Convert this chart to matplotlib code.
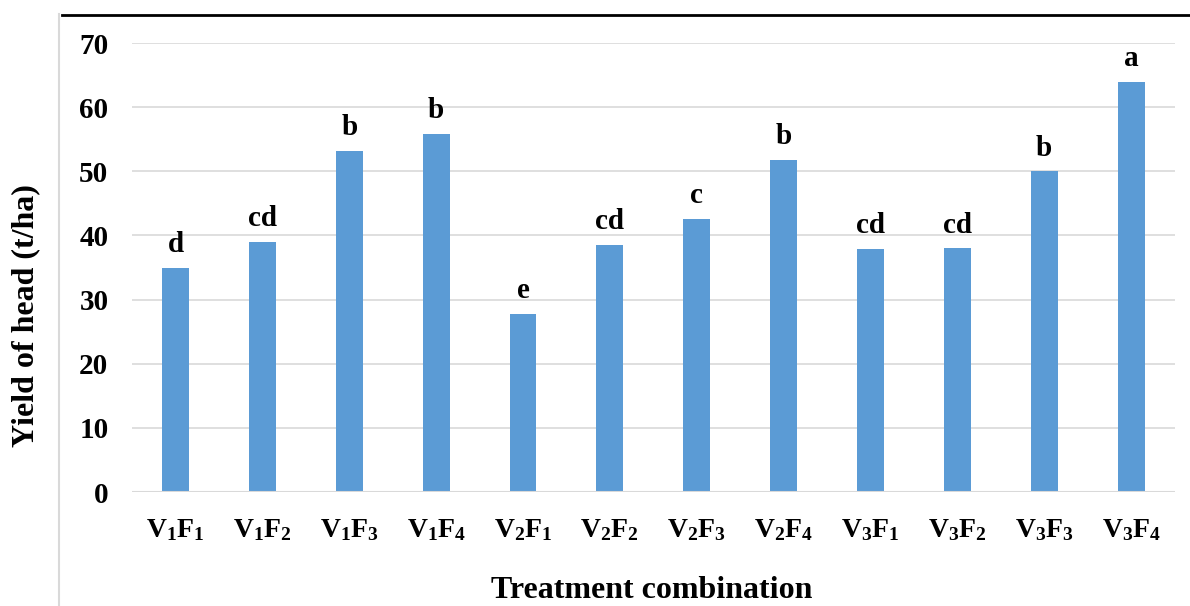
import numpy as np
import matplotlib
matplotlib.use("Agg")
import matplotlib.pyplot as plt
from matplotlib.lines import Line2D

plt.rcParams['font.family'] = ['Liberation Serif', 'DejaVu Serif']
plt.rcParams['font.weight'] = 'bold'
plt.rcParams['mathtext.fontset'] = 'custom'
plt.rcParams['mathtext.rm'] = 'Liberation Serif:bold'
plt.rcParams['mathtext.it'] = 'Liberation Serif:bold'
plt.rcParams['mathtext.bf'] = 'Liberation Serif:bold'

treatments = ['V1F1', 'V1F2', 'V1F3', 'V1F4', 'V2F1', 'V2F2',
              'V2F3', 'V2F4', 'V3F1', 'V3F2', 'V3F3', 'V3F4']
yield_head = [34.9, 39.0, 53.2, 55.8, 27.8, 38.5, 42.6, 51.8, 37.9, 38.0, 50.0, 63.9]
letters = ['d', 'cd', 'b', 'b', 'e', 'cd', 'c', 'b', 'cd', 'cd', 'b', 'a']
yticks = [0, 10, 20, 30, 40, 50, 60, 70]

tick_labels = [r'$\mathrm{V_%sF_%s}$' % (t[1], t[3]) for t in treatments]

fig = plt.figure(figsize=(11.9, 6.06), dpi=100)
ax = fig.add_axes([0.111, 0.188, 0.876, 0.741])

x = np.arange(len(treatments))
ax.bar(x, yield_head, width=0.31, color='#5B9BD5', zorder=3)

for xi, v, l in zip(x, yield_head, letters):
    ax.annotate(l, (xi, v), xytext=(0, 7), textcoords='offset points',
                ha='center', va='bottom', fontsize=21, fontweight='bold')

ax.set_ylim(0, 70)
ax.set_xlim(-0.5, len(treatments) - 0.5)
ax.set_yticks(yticks)
ax.set_yticklabels([str(t) for t in yticks], fontsize=21, fontweight='bold')
ax.set_xticks(x)
ax.set_xticklabels(tick_labels, fontsize=20)
ax.tick_params(axis='both', length=0)
ax.tick_params(axis='y', pad=17)
ax.tick_params(axis='x', pad=18)
ax.grid(axis='y', color='#D9D9D9', linewidth=1.2, zorder=0)
for s in ax.spines.values():
    s.set_visible(False)
ax.axhline(0, color='#D9D9D9', linewidth=1.5, zorder=4)

fig.text(0.022, 0.48, 'Yield of head (t/ha)', ha='center', va='center',
         rotation=90, fontsize=23, fontweight='bold')
fig.text(0.548, 0.026, 'Treatment combination', ha='center', va='center',
         fontsize=23, fontweight='bold')

# outer frame lines
fig.add_artist(Line2D([0.052, 1.0], [0.975, 0.975], color='black', linewidth=2,
                      transform=fig.transFigure))
fig.add_artist(Line2D([0.0496, 0.0496], [0.0, 0.977], color='#D9D9D9', linewidth=1.5,
                      transform=fig.transFigure))

fig.savefig('out.png', dpi=100)
